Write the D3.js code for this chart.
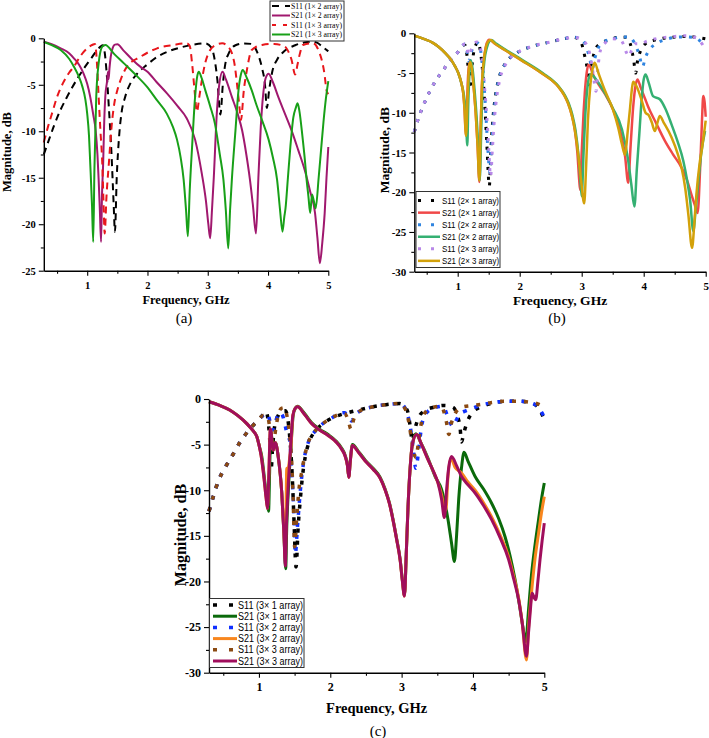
<!DOCTYPE html>
<html><head><meta charset="utf-8">
<script src="https://cdn.jsdelivr.net/npm/d3@7"></script>
<style>body{margin:0;background:#fff}svg{display:block}</style>
</head><body>
<svg id="chart" width="709" height="738"></svg>
<script>
// ---------------- DATA ----------------
const freqTicks = [1, 2, 3, 4, 5];
const freqMinor = [0.5, 1.5, 2.5, 3.5, 4.5];
const magTicksA = [0, -5, -10, -15, -20, -25];
const magTicksBC = [0, -5, -10, -15, -20, -25, -30];

// Panel (a)
const a_S11_1x2 = [[0.28,-12.5],[0.35,-11.2],[0.45,-9.4],[0.55,-7.8],[0.65,-6.5],[0.75,-5.3],[0.85,-4.2],[0.95,-3.2],[1.05,-2.3],[1.15,-1.4],[1.22,-0.9],[1.26,-0.75],[1.29,-1.5],[1.32,-3.5],[1.36,-7.5],[1.40,-12],[1.44,-18],[1.46,-20.8],[1.49,-15],[1.53,-10.5],[1.57,-8],[1.63,-6.3],[1.72,-4.8],[1.83,-3.8],[2.0,-2.8],[2.16,-2.0],[2.35,-1.4],[2.54,-1.0],[2.75,-0.7],[2.96,-0.55],[3.06,-1.0],[3.12,-2.5],[3.16,-4.5],[3.21,-8.2],[3.25,-5],[3.29,-2.8],[3.35,-1.6],[3.46,-0.75],[3.6,-0.55],[3.72,-0.6],[3.82,-1.5],[3.9,-3.2],[3.95,-5],[3.98,-7.5],[4.02,-5.5],[4.07,-3.6],[4.15,-2.3],[4.25,-1.5],[4.45,-0.75],[4.6,-0.45],[4.72,-0.36],[4.82,-0.5],[4.9,-0.9],[5.0,-1.4]];
const a_S21_1x2 = [[0.28,-0.36],[0.4,-0.6],[0.56,-1.08],[0.7,-1.6],[0.78,-2.15],[0.87,-2.9],[0.94,-3.8],[1.0,-4.9],[1.05,-6.3],[1.1,-8.2],[1.14,-9.9],[1.17,-12.5],[1.19,-15.2],[1.21,-18.5],[1.23,-21.9],[1.245,-17],[1.265,-13.4],[1.28,-9.5],[1.30,-6.3],[1.33,-4.6],[1.345,-3.6],[1.355,-4.4],[1.37,-3.2],[1.39,-2.0],[1.42,-1.1],[1.46,-0.68],[1.50,-0.65],[1.6,-1.3],[1.75,-2.3],[1.88,-3.05],[2.0,-3.6],[2.15,-4.7],[2.32,-5.9],[2.5,-7.3],[2.65,-8.6],[2.79,-10.9],[2.9,-14.5],[2.97,-17.5],[3.01,-20],[3.04,-21.5],[3.07,-18.5],[3.10,-15],[3.15,-8.1],[3.19,-5],[3.245,-3.6],[3.3,-4.4],[3.4,-6.3],[3.5,-8.2],[3.57,-9.9],[3.64,-12.5],[3.70,-15.2],[3.75,-18],[3.80,-21],[3.84,-15],[3.88,-9.5],[3.92,-6],[3.96,-4.3],[4.01,-3.8],[4.08,-4.7],[4.17,-6.3],[4.28,-8.1],[4.39,-9.9],[4.5,-12],[4.61,-14.2],[4.7,-16.5],[4.78,-18.8],[4.82,-21.5],[4.86,-24.2],[4.9,-22],[4.94,-18.8],[4.97,-15],[5.0,-11.7]];
const a_S11_1x3 = [[0.28,-11.2],[0.35,-9.5],[0.42,-8],[0.5,-6.3],[0.6,-4.8],[0.7,-3.7],[0.78,-3.05],[0.9,-1.8],[1.0,-1.08],[1.08,-0.72],[1.13,-0.6],[1.16,-2.5],[1.19,-6.3],[1.22,-10],[1.25,-13.4],[1.27,-17.5],[1.29,-21],[1.32,-17],[1.36,-13.4],[1.41,-9.1],[1.45,-7],[1.50,-5.6],[1.57,-4.2],[1.66,-3.05],[1.88,-2.0],[2.16,-1.08],[2.43,-0.72],[2.65,-0.54],[2.7,-0.8],[2.74,-2.7],[2.78,-5.5],[2.82,-7.9],[2.86,-6.3],[2.9,-4.6],[2.96,-2.6],[3.04,-1.26],[3.14,-0.7],[3.24,-0.54],[3.32,-0.8],[3.40,-1.6],[3.45,-3],[3.48,-4.6],[3.52,-7],[3.55,-8.8],[3.6,-5.5],[3.65,-3.4],[3.73,-1.26],[3.9,-0.72],[4.1,-0.6],[4.28,-0.9],[4.35,-1.6],[4.39,-2.3],[4.45,-3.9],[4.49,-2.8],[4.53,-1.6],[4.58,-0.72],[4.75,-0.54],[4.85,-1.5],[4.89,-2.3],[4.94,-4],[4.97,-5.6],[5.0,-6.0]];
const a_S21_1x3 = [[0.28,-0.4],[0.4,-0.7],[0.56,-1.26],[0.7,-2.2],[0.78,-3.05],[0.86,-4.1],[0.92,-5.2],[0.97,-6.6],[1.0,-8.1],[1.03,-10.5],[1.05,-13.4],[1.08,-18],[1.10,-21.9],[1.12,-14],[1.15,-6.3],[1.19,-2.7],[1.25,-0.9],[1.30,-0.72],[1.45,-1.7],[1.61,-2.7],[1.8,-3.9],[1.99,-5.2],[2.15,-6.6],[2.32,-8.1],[2.42,-9.5],[2.49,-10.9],[2.55,-12.8],[2.60,-15.2],[2.64,-18.5],[2.67,-21.3],[2.70,-16.5],[2.74,-11.7],[2.79,-6.3],[2.82,-4.3],[2.85,-3.6],[2.9,-4.3],[2.96,-5.6],[3.04,-7.3],[3.12,-9.2],[3.2,-12.5],[3.26,-15.2],[3.30,-18.5],[3.34,-22.6],[3.37,-18.5],[3.40,-15.2],[3.46,-9.9],[3.51,-5.6],[3.55,-3.9],[3.58,-3.4],[3.65,-4.3],[3.73,-5.6],[3.81,-7.2],[3.9,-8.8],[4.01,-10.9],[4.08,-12.8],[4.15,-15.2],[4.20,-18.5],[4.24,-20.8],[4.27,-19.2],[4.29,-18.3],[4.33,-15],[4.37,-11.7],[4.42,-8.5],[4.46,-7.5],[4.49,-7.0],[4.52,-7.8],[4.57,-10.5],[4.61,-13],[4.64,-15.2],[4.67,-17],[4.70,-18.8],[4.73,-16.8],[4.76,-17.5],[4.79,-18.3],[4.84,-15],[4.88,-12],[4.92,-9],[4.96,-6.5],[5.0,-4.6]];

// Panel (b)
const b_S11_2x1 = [[0.3,-12.4],[0.37,-10.6],[0.45,-9.0],[0.55,-7.3],[0.65,-5.9],[0.75,-4.8],[0.88,-3.4],[1.0,-2.4],[1.08,-1.6],[1.12,-1.5],[1.15,-2.8],[1.18,-5.5],[1.2,-7],[1.22,-5],[1.25,-2.8],[1.29,-1.5],[1.33,-1.1],[1.37,-2.5],[1.41,-5.6],[1.44,-9.5],[1.47,-14],[1.51,-19.2],[1.54,-14],[1.57,-10.5],[1.61,-7.8],[1.66,-5.8],[1.76,-3.9],[1.95,-2.5],[2.22,-1.6],[2.49,-1.1],[2.7,-0.7],[2.87,-0.5],[2.98,-1],[3.05,-2.9],[3.09,-4.5],[3.12,-6.5],[3.16,-4],[3.22,-2],[3.3,-1.3],[3.46,-0.8],[3.6,-0.5],[3.72,-0.5],[3.8,-1.8],[3.84,-3.5],[3.87,-5.0],[3.9,-3.5],[3.95,-2.2],[4.05,-1.2],[4.2,-0.8],[4.45,-0.5],[4.66,-0.4],[4.85,-0.5],[5.0,-0.7]];
const b_S21_2x1 = [[0.3,-0.3],[0.45,-0.7],[0.6,-1.2],[0.69,-1.7],[0.8,-2.5],[0.9,-3.4],[0.96,-4.2],[1.01,-5.0],[1.06,-6.3],[1.09,-7.6],[1.11,-9.5],[1.13,-12.8],[1.15,-9],[1.17,-5],[1.20,-3.4],[1.23,-4.5],[1.26,-7],[1.29,-10],[1.32,-14],[1.35,-18.7],[1.37,-12],[1.39,-6.7],[1.42,-3.5],[1.45,-1.8],[1.49,-0.9],[1.51,-0.8],[1.6,-1.3],[1.76,-2.1],[2.03,-3.4],[2.35,-5.0],[2.62,-6.7],[2.72,-7.8],[2.78,-8.8],[2.84,-10.3],[2.89,-12.2],[2.93,-15],[2.96,-18.5],[2.975,-19.7],[3.0,-15],[3.03,-10],[3.05,-7.5],[3.08,-5],[3.11,-3.95],[3.2,-5.5],[3.38,-7.7],[3.5,-9.5],[3.65,-13.2],[3.70,-15.5],[3.75,-18.8],[3.79,-14],[3.83,-9.3],[3.87,-6.5],[3.90,-5.8],[3.95,-6.8],[4.02,-8.2],[4.07,-9.2],[4.2,-11.3],[4.34,-13.5],[4.47,-15.2],[4.61,-16.9],[4.7,-18.5],[4.77,-20.3],[4.82,-21.5],[4.87,-22.6],[4.91,-17],[4.94,-11],[4.96,-7.9],[4.98,-8.5],[5.0,-10.5]];
const b_S11_2x2 = [[0.3,-12.4],[0.37,-10.6],[0.45,-9.0],[0.55,-7.3],[0.65,-5.9],[0.75,-4.8],[0.88,-3.4],[1.0,-2.4],[1.08,-1.5],[1.12,-1.35],[1.15,-2.2],[1.18,-3.5],[1.21,-2.6],[1.26,-1.6],[1.31,-1.2],[1.35,-1.4],[1.39,-3.5],[1.43,-7],[1.46,-11],[1.49,-15],[1.52,-17.5],[1.55,-14],[1.58,-10.5],[1.62,-7.6],[1.67,-5.6],[1.77,-3.8],[1.95,-2.5],[2.22,-1.6],[2.49,-1.1],[2.7,-0.7],[2.87,-0.5],[3.0,-0.8],[3.08,-1.8],[3.13,-3.2],[3.17,-4.5],[3.21,-3.2],[3.27,-1.8],[3.35,-1.1],[3.5,-0.7],[3.65,-0.45],[3.75,-0.45],[3.85,-1.2],[3.93,-2.8],[3.98,-4.2],[4.03,-3],[4.1,-2],[4.2,-1.3],[4.35,-0.8],[4.6,-0.45],[4.8,-0.5],[4.9,-0.9],[5.0,-1.6]];
const b_S21_2x2 = [[0.3,-0.3],[0.45,-0.7],[0.6,-1.2],[0.69,-1.7],[0.8,-2.5],[0.9,-3.4],[0.96,-4.2],[1.01,-5.0],[1.06,-6.3],[1.10,-7.8],[1.13,-10],[1.155,-14.1],[1.17,-9],[1.19,-5],[1.21,-3.4],[1.24,-4.5],[1.27,-7],[1.30,-10],[1.33,-14],[1.355,-18.5],[1.38,-12],[1.40,-6.7],[1.43,-3.5],[1.47,-1.8],[1.51,-1.0],[1.54,-0.84],[1.62,-1.3],[1.78,-2.1],[2.05,-3.4],[2.37,-5.0],[2.63,-6.7],[2.73,-7.8],[2.79,-8.8],[2.85,-10.3],[2.9,-12.2],[2.95,-15.5],[2.98,-18.5],[3.0,-20.5],[3.03,-15],[3.06,-10],[3.09,-7],[3.12,-5.5],[3.15,-5.2],[3.25,-6],[3.38,-7.6],[3.5,-9.4],[3.65,-12.1],[3.75,-16],[3.80,-19],[3.85,-21.8],[3.89,-17],[3.93,-12.6],[3.97,-8],[4.0,-5.8],[4.03,-5.2],[4.08,-6.2],[4.15,-7.9],[4.26,-8.3],[4.35,-9.5],[4.45,-11.5],[4.55,-13.7],[4.64,-16.1],[4.7,-18.5],[4.75,-21.1],[4.80,-24.9],[4.84,-22],[4.88,-18.8],[4.93,-15],[4.99,-12.3]];
const b_S11_2x3 = [[0.3,-12.4],[0.37,-10.6],[0.45,-9.0],[0.55,-7.3],[0.65,-5.9],[0.75,-4.8],[0.88,-3.4],[1.0,-2.4],[1.08,-1.5],[1.12,-1.3],[1.15,-1.9],[1.18,-2.8],[1.21,-2.2],[1.26,-1.4],[1.31,-1.1],[1.35,-1.3],[1.39,-3.2],[1.43,-6.5],[1.47,-10.5],[1.5,-14.5],[1.53,-18],[1.56,-14.5],[1.59,-11],[1.63,-8],[1.68,-5.8],[1.78,-3.8],[1.95,-2.5],[2.22,-1.6],[2.49,-1.1],[2.7,-0.7],[2.87,-0.5],[3.0,-0.8],[3.1,-1.8],[3.16,-3.8],[3.2,-6],[3.23,-7.3],[3.26,-4.5],[3.3,-2.2],[3.38,-1.2],[3.5,-0.7],[3.62,-0.8],[3.68,-1.5],[3.72,-2.4],[3.76,-2.9],[3.8,-2.2],[3.86,-1.3],[3.95,-1.3],[4.05,-1.0],[4.25,-0.6],[4.5,-0.4],[4.68,-0.3],[4.82,-0.5],[4.9,-0.9],[5.0,-2.1]];
const b_S21_2x3 = [[0.3,-0.3],[0.45,-0.7],[0.6,-1.2],[0.69,-1.7],[0.8,-2.5],[0.9,-3.4],[0.96,-4.2],[1.01,-5.0],[1.06,-6.3],[1.09,-7.6],[1.11,-9.5],[1.135,-12.9],[1.16,-8],[1.18,-4.5],[1.20,-3.6],[1.23,-4.5],[1.26,-7],[1.29,-10],[1.32,-14],[1.35,-18.5],[1.37,-12],[1.39,-6.7],[1.42,-3.5],[1.46,-1.6],[1.5,-0.95],[1.53,-0.85],[1.6,-1.3],[1.76,-2.1],[2.03,-3.4],[2.35,-5.0],[2.62,-6.7],[2.72,-7.8],[2.78,-8.8],[2.84,-10.3],[2.89,-12.2],[2.94,-15],[2.99,-18.5],[3.04,-21.4],[3.07,-17],[3.1,-11],[3.14,-6.5],[3.18,-4.3],[3.21,-3.7],[3.27,-5],[3.38,-7.3],[3.5,-9.5],[3.59,-11.9],[3.65,-14],[3.70,-15.3],[3.74,-12.5],[3.78,-9.4],[3.81,-7],[3.83,-6.1],[3.88,-6.6],[3.97,-8.5],[4.03,-10],[4.08,-10.3],[4.13,-11.2],[4.18,-12.3],[4.22,-11.3],[4.26,-10.4],[4.32,-11.2],[4.45,-13.1],[4.55,-15.2],[4.61,-16.9],[4.67,-19.5],[4.72,-22.8],[4.78,-27],[4.82,-23.5],[4.85,-20.3],[4.9,-16.5],[4.94,-14.5],[5.0,-11]];

// Panel (c)
const c_S11_3x1 = [[0.3,-12.3],[0.36,-10.7],[0.43,-9.0],[0.52,-7.6],[0.62,-6.3],[0.73,-4.8],[0.85,-3.5],[0.99,-2.3],[1.06,-1.7],[1.1,-1.35],[1.13,-2.5],[1.155,-5],[1.17,-7.8],[1.19,-5.5],[1.22,-3],[1.27,-1.8],[1.32,-1.3],[1.37,-1.3],[1.41,-2.5],[1.44,-5],[1.47,-9],[1.49,-13],[1.52,-18.4],[1.55,-14],[1.58,-11],[1.61,-8.5],[1.65,-6.3],[1.7,-4.8],[1.79,-3.5],[1.88,-2.8],[2.02,-2.1],[2.2,-1.6],[2.4,-1.2],[2.6,-0.85],[2.8,-0.6],[2.97,-0.5],[3.05,-0.9],[3.09,-1.5],[3.12,-3],[3.15,-4.6],[3.18,-3.5],[3.24,-2],[3.32,-1.3],[3.45,-0.9],[3.6,-0.7],[3.72,-0.9],[3.78,-1.8],[3.82,-3.2],[3.84,-4.7],[3.87,-3.8],[3.92,-2.5],[4.0,-1.4],[4.1,-0.9],[4.25,-0.5],[4.45,-0.25],[4.65,-0.25],[4.8,-0.4],[4.9,-0.8],[4.95,-1.4],[5.0,-2.3]];
const c_S21_3x1 = [[0.3,-0.3],[0.45,-0.7],[0.59,-1.2],[0.7,-1.8],[0.83,-2.7],[0.92,-3.5],[0.97,-4.1],[1.01,-5.3],[1.04,-6.3],[1.08,-8.9],[1.11,-11],[1.135,-12.3],[1.15,-8],[1.165,-3.4],[1.2,-5.6],[1.23,-4.8],[1.27,-6.3],[1.32,-10.3],[1.35,-14.7],[1.375,-18.6],[1.39,-14],[1.41,-10.3],[1.45,-5.1],[1.48,-1.8],[1.51,-1.0],[1.54,-0.8],[1.64,-1.6],[1.74,-2.6],[1.85,-3.3],[1.97,-3.9],[2.08,-4.6],[2.16,-5.4],[2.21,-6.2],[2.24,-7.2],[2.26,-8.5],[2.28,-6.8],[2.31,-5.0],[2.4,-5.8],[2.49,-6.7],[2.6,-7.6],[2.7,-8.6],[2.77,-9.9],[2.83,-11.4],[2.88,-13.2],[2.93,-15.3],[2.98,-17.6],[3.01,-19.8],[3.04,-21.5],[3.065,-17],[3.09,-11.8],[3.12,-7.5],[3.15,-5],[3.2,-3.8],[3.27,-4.8],[3.37,-6.5],[3.47,-8.5],[3.56,-9.9],[3.65,-13.2],[3.70,-15.8],[3.74,-17.8],[3.77,-15],[3.80,-11],[3.84,-7.5],[3.875,-5.85],[3.93,-6.8],[4.03,-8.5],[4.15,-9.9],[4.26,-11.4],[4.36,-13.1],[4.45,-15.1],[4.52,-17.2],[4.59,-19.8],[4.65,-22.5],[4.70,-25],[4.74,-26.6],[4.78,-23],[4.82,-19.3],[4.87,-16],[4.92,-13.2],[4.96,-11],[5.0,-9.2]];
const c_S11_3x2 = [[0.3,-12.3],[0.36,-10.7],[0.43,-9.0],[0.52,-7.6],[0.62,-6.3],[0.73,-4.8],[0.85,-3.5],[0.99,-2.3],[1.06,-1.8],[1.12,-1.6],[1.16,-2.6],[1.2,-3.4],[1.24,-2.3],[1.29,-1.5],[1.33,-1.8],[1.37,-3],[1.40,-4],[1.43,-4.5],[1.46,-8],[1.49,-12.5],[1.51,-17],[1.54,-14],[1.57,-11],[1.6,-8.5],[1.64,-6.3],[1.69,-4.8],[1.79,-3.5],[1.88,-2.8],[2.02,-2.1],[2.12,-1.6],[2.2,-1.5],[2.26,-2.0],[2.3,-2.4],[2.34,-1.8],[2.45,-1.2],[2.6,-0.85],[2.8,-0.6],[2.97,-0.5],[3.05,-1.0],[3.1,-2.2],[3.15,-4.5],[3.2,-7.6],[3.24,-5.5],[3.28,-3],[3.34,-1.6],[3.45,-1.0],[3.58,-0.8],[3.64,-1.8],[3.68,-2.6],[3.72,-3.0],[3.76,-2.4],[3.82,-1.6],[3.9,-1.3],[4.0,-1.0],[4.1,-0.7],[4.25,-0.45],[4.45,-0.25],[4.65,-0.25],[4.8,-0.4],[4.9,-0.8],[4.95,-1.3],[5.0,-2.0]];
const c_S21_3x2 = [[0.3,-0.3],[0.45,-0.7],[0.59,-1.2],[0.7,-1.8],[0.83,-2.7],[0.92,-3.5],[0.97,-4.1],[1.0,-5.0],[1.03,-6.2],[1.07,-8.6],[1.1,-10.8],[1.12,-12.0],[1.14,-8],[1.16,-3.3],[1.2,-5.6],[1.23,-4.8],[1.27,-6.3],[1.32,-10.3],[1.35,-14.7],[1.37,-17.5],[1.38,-12],[1.39,-7.6],[1.41,-7.6],[1.43,-6.5],[1.45,-5.1],[1.475,-1.8],[1.51,-1.0],[1.54,-0.85],[1.64,-1.7],[1.74,-2.7],[1.85,-3.4],[1.97,-4.0],[2.08,-4.7],[2.16,-5.5],[2.21,-6.3],[2.24,-7.3],[2.26,-8.6],[2.28,-6.9],[2.31,-5.1],[2.4,-5.9],[2.49,-6.8],[2.6,-7.7],[2.7,-8.7],[2.77,-10],[2.83,-11.5],[2.88,-13.3],[2.93,-15.4],[2.98,-17.7],[3.01,-19.9],[3.04,-21.6],[3.065,-17],[3.09,-11.8],[3.12,-7.5],[3.15,-5],[3.21,-3.9],[3.28,-5],[3.37,-6.65],[3.45,-8],[3.51,-9.2],[3.56,-10.5],[3.60,-12.1],[3.62,-12.2],[3.65,-8.5],[3.69,-6.5],[3.75,-7.5],[3.84,-8.1],[3.93,-9.1],[4.03,-10.0],[4.15,-11.4],[4.26,-12.9],[4.38,-14.9],[4.5,-17.3],[4.57,-19.4],[4.64,-21.8],[4.69,-24.5],[4.75,-28.6],[4.78,-25],[4.82,-21.3],[4.87,-17.5],[4.92,-14.7],[4.96,-12.5],[5.0,-10.7]];
const c_S11_3x3 = [[0.3,-12.3],[0.36,-10.7],[0.43,-9.0],[0.52,-7.6],[0.62,-6.3],[0.73,-4.8],[0.85,-3.5],[0.99,-2.3],[1.06,-1.8],[1.12,-1.9],[1.16,-3.5],[1.2,-5],[1.24,-3],[1.28,-1.5],[1.32,-1.0],[1.36,-0.95],[1.40,-2.2],[1.43,-4],[1.46,-7],[1.48,-11],[1.5,-16.2],[1.53,-13],[1.56,-10],[1.6,-8],[1.64,-6.3],[1.69,-4.8],[1.79,-3.5],[1.88,-2.8],[2.02,-2.1],[2.12,-1.7],[2.2,-1.6],[2.25,-2.3],[2.29,-3.3],[2.33,-2.2],[2.42,-1.3],[2.6,-0.85],[2.8,-0.6],[2.97,-0.5],[3.05,-1.1],[3.1,-2.5],[3.15,-5],[3.2,-6.4],[3.24,-4.5],[3.28,-2.5],[3.35,-1.3],[3.45,-0.9],[3.56,-0.8],[3.6,-1.6],[3.63,-2.6],[3.66,-3.9],[3.7,-2.6],[3.75,-1.6],[3.84,-0.9],[4.0,-0.7],[4.1,-0.6],[4.25,-0.4],[4.45,-0.25],[4.65,-0.25],[4.8,-0.35],[4.9,-0.5],[5.0,-0.9]];
const c_S21_3x3 = [[0.3,-0.3],[0.45,-0.7],[0.59,-1.2],[0.7,-1.8],[0.83,-2.7],[0.92,-3.5],[0.97,-4.1],[1.0,-5.0],[1.03,-6.2],[1.07,-8.6],[1.1,-10.8],[1.12,-12.0],[1.14,-8],[1.16,-3.3],[1.2,-5.6],[1.23,-4.8],[1.27,-6.3],[1.32,-10.3],[1.35,-14.7],[1.37,-18.3],[1.385,-14],[1.405,-10.3],[1.445,-5.1],[1.475,-1.8],[1.51,-1.0],[1.54,-0.85],[1.64,-1.7],[1.74,-2.7],[1.85,-3.4],[1.97,-4.0],[2.08,-4.7],[2.16,-5.5],[2.21,-6.3],[2.24,-7.3],[2.26,-8.6],[2.28,-6.9],[2.31,-5.1],[2.4,-5.9],[2.49,-6.8],[2.6,-7.7],[2.7,-8.7],[2.77,-10],[2.83,-11.5],[2.88,-13.3],[2.93,-15.4],[2.98,-17.7],[3.01,-19.9],[3.04,-21.6],[3.065,-17],[3.09,-11.8],[3.12,-7.5],[3.15,-5],[3.21,-3.9],[3.28,-5],[3.37,-6.65],[3.45,-8],[3.51,-9.2],[3.56,-11],[3.60,-13.0],[3.63,-10],[3.66,-7.5],[3.70,-6.3],[3.77,-7.3],[3.84,-8.5],[3.93,-9.4],[4.03,-10.3],[4.15,-11.7],[4.26,-13.2],[4.38,-15.2],[4.5,-17.6],[4.57,-19.7],[4.64,-22],[4.69,-24.5],[4.75,-28.2],[4.78,-25.5],[4.80,-23.6],[4.83,-21.3],[4.86,-21.8],[4.88,-22],[4.91,-20],[4.94,-17.6],[4.97,-15.5],[5.0,-13.6]];

const legendA = ["S11 (1× 2 array)", "S21 (1× 2 array)", "S11 (1× 3 array)", "S21 (1× 3 array)"];
const legendB = ["S11 (2× 1 array)", "S21 (2× 1 array)", "S11 (2× 2 array)", "S21 (2× 2 array)", "S11 (2× 3 array)", "S21 (2× 3 array)"];
const legendC = ["S11 (3× 1 array)", "S21 (3× 1 array)", "S11 (3× 2 array)", "S21 (3× 2 array)", "S11 (3× 3 array)", "S21 (3× 3 array)"];

// ---------------- DRAWING ----------------
const svg = d3.select("#chart");
const SERIF = "'Liberation Serif','Times New Roman',serif";
const SANS = "'Liberation Sans',Arial,sans-serif";

function panel(p) {
  const x = d3.scaleLinear().domain(p.xDomain).range(p.xRange);
  const y = d3.scaleLinear().domain(p.yDomain).range(p.yRange);
  const g = svg.append("g");
  const line = d3.line().x(d => x(d[0])).y(d => y(d[1])).curve(d3.curveMonotoneX);
  p.series.forEach(s => {
    g.append("path").attr("d", line(s.data)).attr("fill", "none")
      .attr("stroke", s.color).attr("stroke-width", s.width)
      .attr("stroke-dasharray", s.dash || null)
      .attr("stroke-linejoin", "round");
  });
  const y0 = p.yRange[0];
  const x0 = p.xRange[0];
  const xa = g.append("g").attr("transform", `translate(0,${y0})`)
    .call(d3.axisBottom(x).tickValues(freqTicks).tickSize(p.tick).tickSizeOuter(0).tickFormat(d => String(d)));
  g.append("g").attr("transform", `translate(0,${y0})`)
    .call(d3.axisBottom(x).tickValues(freqMinor).tickSize(p.tick * 0.6).tickSizeOuter(0).tickFormat(""))
    .select(".domain").remove();
  const ya = g.append("g").attr("transform", `translate(${x0},0)`)
    .call(d3.axisLeft(y).tickValues(p.yTicks).tickSize(p.tick).tickSizeOuter(0).tickFormat(d => String(d)));
  const yMinor = p.yTicks.slice(0, -1).map(v => v - 2.5);
  g.append("g").attr("transform", `translate(${x0},0)`)
    .call(d3.axisLeft(y).tickValues(yMinor).tickSize(p.tick * 0.6).tickSizeOuter(0).tickFormat(""))
    .select(".domain").remove();
  g.selectAll(".domain").attr("stroke", "#000").attr("stroke-width", 1.4);
  g.selectAll(".tick line").attr("stroke", "#000").attr("stroke-width", 1.1);
  [xa, ya].forEach(a => a.attr("font-family", SERIF).selectAll("text").attr("font-family", SERIF).attr("font-weight", "bold")
    .attr("font-size", p.tickFont).attr("fill", "#000"));
  xa.selectAll("text").attr("dy", null).attr("y", p.xLabY - y0);
  ya.selectAll("text").attr("x", -p.yLabGap);
  const cx = (p.xRange[0] + p.xRange[1]) / 2;
  svg.append("text").attr("x", cx).attr("y", p.xTitleY).attr("text-anchor", "middle")
    .attr("font-family", SERIF).attr("font-weight", "bold").attr("font-size", p.titleFont).text("Frequency, GHz");
  svg.append("text").attr("transform", `translate(${p.yTitleX},${p.yTitleCY}) rotate(-90)`).attr("text-anchor", "middle")
    .attr("font-family", SERIF).attr("font-weight", "bold").attr("font-size", p.yTitleFont).text("Magnitude, dB");
  svg.append("text").attr("x", p.capX).attr("y", p.capY).attr("text-anchor", "middle")
    .attr("font-family", SERIF).attr("font-size", 15).text(p.caption);
  const L = p.legend;
  svg.append("rect").attr("x", L.x).attr("y", L.y).attr("width", L.w).attr("height", L.h)
    .attr("fill", "#fff").attr("stroke", "#333").attr("stroke-width", 1);
  p.series.forEach((s, i) => {
    const yy = L.y0 + i * L.dy;
    svg.append("line").attr("x1", L.sx1).attr("x2", L.sx2).attr("y1", yy).attr("y2", yy)
      .attr("stroke", s.color).attr("stroke-width", s.lw || s.width)
      .attr("stroke-dasharray", s.ldash || null);
    svg.append("text").attr("x", L.tx).attr("y", yy).attr("dy", "0.35em")
      .attr("font-family", L.font).attr("font-size", L.fs)
      .attr("textLength", L.tl).attr("lengthAdjust", "spacingAndGlyphs")
      .text(p.labels[i]);
  });
}

panel({
  xDomain: [0.28, 5], xRange: [43.8, 328.3], yDomain: [-25, 0], yRange: [270.7, 38.3],
  yTicks: magTicksA, tick: 5, tickFont: 10.5, xLabY: 289, yLabGap: 8,
  titleFont: 12.5, yTitleFont: 12.5, xTitleY: 304, yTitleX: 11, yTitleCY: 152, capX: 184, capY: 323, caption: "(a)",
  labels: legendA,
  legend: { x: 270, y: 1, w: 74, h: 40, y0: 6, dy: 9.5, sx1: 272, sx2: 290, tx: 291, tl: 51, fs: 8, font: SERIF },
  series: [
    { data: a_S11_1x2, color: "#000000", width: 2, dash: "7,5", ldash: "7,6" },
    { data: a_S21_1x2, color: "#A0186E", width: 2 },
    { data: a_S11_1x3, color: "#E8161B", width: 2, dash: "7,5", ldash: "4,7" },
    { data: a_S21_1x3, color: "#18A018", width: 2 }
  ]
});

panel({
  xDomain: [0.3, 5], xRange: [414.3, 705.7], yDomain: [-30, 0], yRange: [271.7, 33.3],
  yTicks: magTicksBC, tick: 5, tickFont: 11, xLabY: 290, yLabGap: 8,
  titleFont: 13.5, yTitleFont: 13.5, xTitleY: 305, yTitleX: 389, yTitleCY: 150, capX: 557, capY: 323, caption: "(b)",
  labels: legendB,
  legend: { x: 416, y: 191.5, w: 84, h: 76, y0: 200.6, dy: 12.05, sx1: 418, sx2: 440, tx: 442, tl: 57, fs: 9, font: SANS },
  series: [
    { data: b_S11_2x1, color: "#000000", width: 3, dash: "3,7", ldash: "3,10" },
    { data: b_S21_2x1, color: "#F04848", width: 2.5 },
    { data: b_S11_2x2, color: "#2F84E0", width: 3, dash: "3,7", ldash: "3,10" },
    { data: b_S21_2x2, color: "#35B072", width: 2.5 },
    { data: b_S11_2x3, color: "#B888E8", width: 3, dash: "3,7", ldash: "3,10" },
    { data: b_S21_2x3, color: "#D3A10A", width: 2.5 }
  ]
});

panel({
  xDomain: [0.3, 5], xRange: [209, 544.3], yDomain: [-30, 0], yRange: [672.7, 399],
  yTicks: magTicksBC, tick: 5, tickFont: 12, xLabY: 691, yLabGap: 8,
  titleFont: 14.5, yTitleFont: 16, xTitleY: 713, yTitleX: 186, yTitleCY: 535, capX: 378, capY: 736, caption: "(c)",
  labels: legendC,
  legend: { x: 209.5, y: 598.5, w: 94.5, h: 69, y0: 605, dy: 11.2, sx1: 213, sx2: 237, tx: 238, tl: 65, fs: 10, font: SANS },
  series: [
    { data: c_S11_3x1, color: "#000000", width: 3.5, dash: "4,8", ldash: "4,12" },
    { data: c_S21_3x1, color: "#0B6A0B", width: 3 },
    { data: c_S11_3x2, color: "#1030FF", width: 3.5, dash: "4,8", ldash: "4,12" },
    { data: c_S21_3x2, color: "#F8861E", width: 3 },
    { data: c_S11_3x3, color: "#8B4A12", width: 3.5, dash: "4,8", ldash: "4,12" },
    { data: c_S21_3x3, color: "#A00E5C", width: 3 }
  ]
});
</script>
</body></html>
